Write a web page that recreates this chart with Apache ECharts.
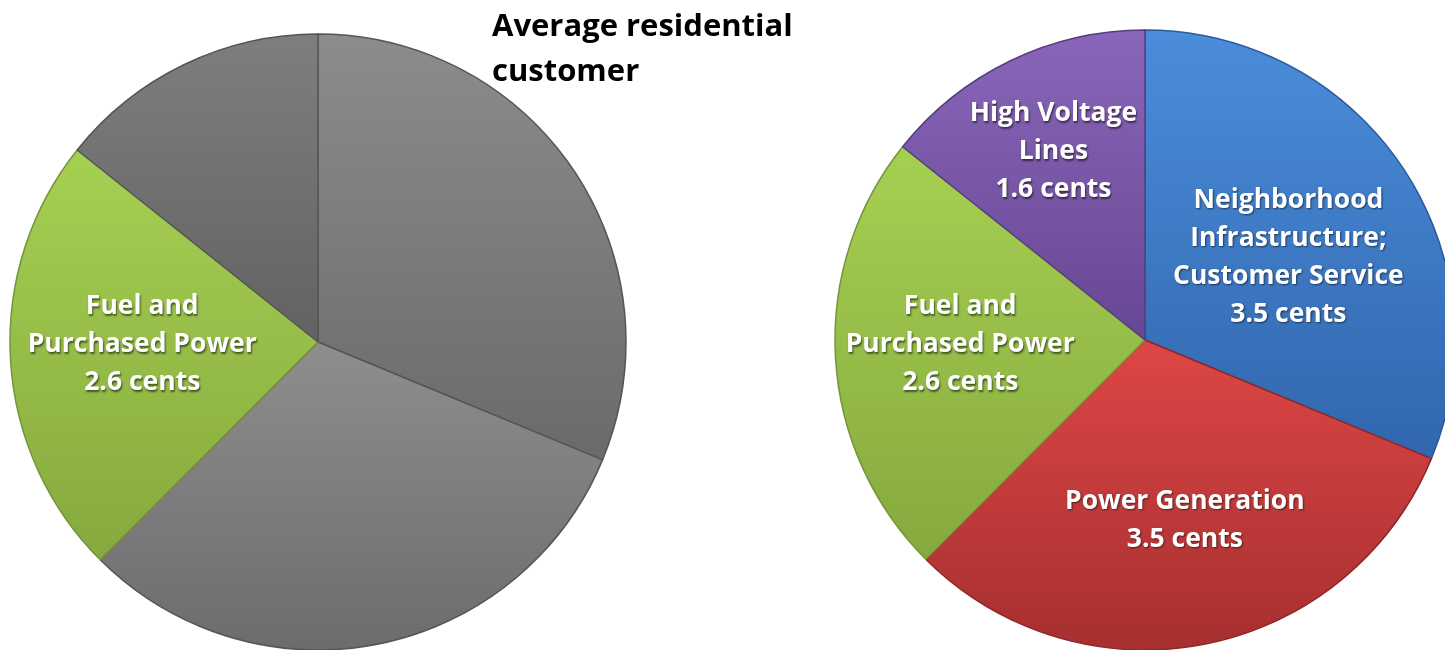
<!DOCTYPE html>
<html>
<head>
<meta charset="utf-8">
<script src="https://cdn.jsdelivr.net/npm/echarts@6/dist/echarts.min.js"></script>
<style>
html,body{margin:0;padding:0;background:#fff;}
#chart{width:1445px;height:650px;}
</style>
</head>
<body>
<div id="chart"></div>
<script>
// ---- data ----
var categories = [
  'Neighborhood\nInfrastructure;\nCustomer Service',
  'Power Generation',
  'Fuel and\nPurchased Power',
  'High Voltage\nLines'
];
var valuesCents = [3.5, 3.5, 2.6, 1.6];
var titleText = 'Average residential\ncustomer';
var unitText = 'cents';

// ---- styling (not data) ----
var colorsRight = [
  ['#4b8ddb', '#3166ad'],
  ['#de4646', '#a62f2f'],
  ['#a6d052', '#86a93e'],
  ['#8a66ba', '#664793']
];
var colorsLeft = [
  ['#8c8c8c', '#6a6a6a'],
  ['#8e8e8e', '#6c6c6c'],
  ['#a6d052', '#86a93e'],
  ['#7e7e7e', '#626262']
];
var bordersRight = ['#2c5c9c', '#8e2727', '#75953a', '#573c80'];
var bordersLeft = ['#555555', '#555555', '#75953a', '#555555'];
var labelOffsetsRight = [[12, 5], [9, 25], [-27, -4], [-23, -46]];
var labelOffsetLeftFuel = [-19, -6];
var showLeftLabel = [false, false, true, false];
var FONT = '"Open Sans", Lato, sans-serif';

function grad(c) {
  return new echarts.graphic.LinearGradient(0, 0, 0, 1, [
    { offset: 0, color: c[0] },
    { offset: 1, color: c[1] }
  ]);
}

var labelBase = {
  show: true,
  position: 'inside',
  color: '#ffffff',
  fontFamily: FONT,
  fontWeight: 'bold',
  fontSize: 26.5,
  lineHeight: 38,
  align: 'center',
  textShadowColor: 'rgba(0,0,0,0.55)',
  textShadowBlur: 2,
  textShadowOffsetX: 1,
  textShadowOffsetY: 1.5,
  formatter: function (p) { return p.name + '\n' + p.value + ' ' + unitText; }
};

function buildData(colors, borders, side) {
  return categories.map(function (name, i) {
    var lbl = Object.assign({}, labelBase);
    if (side === 'right') {
      lbl.offset = labelOffsetsRight[i];
    } else {
      lbl.show = showLeftLabel[i];
      lbl.offset = labelOffsetLeftFuel;
    }
    return {
      name: name,
      value: valuesCents[i],
      itemStyle: { color: grad(colors[i]), borderColor: borders[i], borderWidth: 1.5 },
      label: lbl
    };
  });
}

var chart = echarts.init(document.getElementById('chart'), null, { renderer: 'canvas' });
chart.setOption({
  backgroundColor: '#ffffff',
  animation: false,
  title: {
    text: titleText,
    left: 487,
    top: 0,
    textStyle: {
      color: '#000000',
      fontFamily: FONT,
      fontWeight: 'bold',
      fontSize: 31,
      lineHeight: 45
    }
  },
  series: [
    {
      type: 'pie',
      center: [318, 342],
      radius: 308,
      startAngle: 90,
      clockwise: true,
      labelLine: { show: false },
      emphasis: { disabled: true },
      data: buildData(colorsLeft, bordersLeft, 'left')
    },
    {
      type: 'pie',
      center: [1145, 340],
      radius: 310,
      startAngle: 90,
      clockwise: true,
      labelLine: { show: false },
      emphasis: { disabled: true },
      data: buildData(colorsRight, bordersRight, 'right')
    }
  ]
});
</script>
</body>
</html>
